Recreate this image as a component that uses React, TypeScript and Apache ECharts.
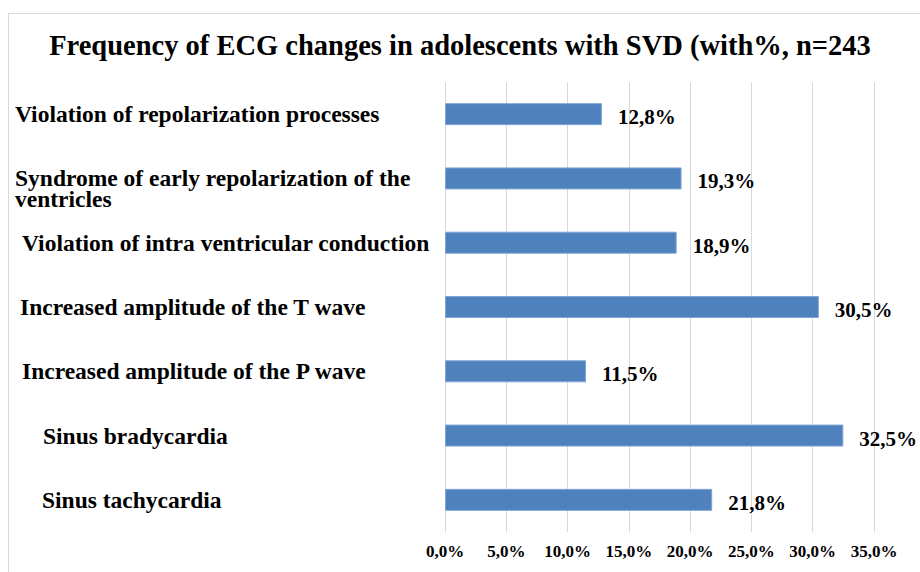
import React, { useEffect, useRef } from "react";
import * as echarts from "echarts";

const titleText = "Frequency of ECG changes in adolescents with SVD (with%, n=243";
const categories = [
  "Violation of repolarization processes",
  "Syndrome of early repolarization of the\nventricles",
  "Violation of intra ventricular conduction",
  "Increased amplitude of the T wave",
  "Increased amplitude of the P wave",
  "Sinus bradycardia",
  "Sinus tachycardia",
];
const values = [12.8, 19.3, 18.9, 30.5, 11.5, 32.5, 21.8];
const xTicks = [0, 5, 10, 15, 20, 25, 30, 35];

// styling only: left indent of each category label (px)
const labelIndent = [0, 0, 7, 5, 7, 28, 27];

const fmt = (v: number) => v.toFixed(1).replace(".", ",") + "%";

export default function App() {
  const ref = useRef<HTMLDivElement>(null);
  useEffect(() => {
    if (!ref.current) return;
    const chart = echarts.init(ref.current, undefined, { renderer: "svg" });
    const font = "'Liberation Serif', 'Times New Roman', serif";
    chart.setOption({
      animation: false,
      backgroundColor: "#ffffff",
      title: {
        text: titleText,
        left: "center",
        top: 26,
        textStyle: { fontFamily: font, fontWeight: "bold", fontSize: 28.5, color: "#000" },
      },
      graphic: [
        { type: "line", shape: { x1: 8, y1: 13.5, x2: 920, y2: 13.5 }, style: { stroke: "#d9d9d9", lineWidth: 1 } },
        { type: "line", shape: { x1: 8.5, y1: 13, x2: 8.5, y2: 572 }, style: { stroke: "#d9d9d9", lineWidth: 1 } },
      ],
      grid: { left: 445, right: 46, top: 82, bottom: 40, containLabel: false, outerBoundsMode: "none" },
      xAxis: {
        type: "value",
        min: xTicks[0],
        max: xTicks[xTicks.length - 1],
        interval: 5,
        axisLine: { show: false },
        axisTick: { show: false },
        splitLine: { show: true, lineStyle: { color: "#d9d9d9", width: 1 } },
        axisLabel: {
          formatter: (v: number) => fmt(v),
          fontFamily: font,
          fontWeight: "bold",
          fontSize: 17,
          color: "#000",
          margin: 11,
        },
      },
      yAxis: {
        type: "category",
        inverse: true,
        data: categories.map((c, i) => ({
          value: c,
          textStyle: {
            align: "left",
            padding: [0, 0, 0, labelIndent[i]],
          },
        })),
        axisLine: { show: false },
        axisTick: { show: false },
        axisLabel: {
          align: "left",
          margin: 430,
          fontFamily: font,
          fontWeight: "bold",
          fontSize: 23.5,
          lineHeight: 21,
          color: "#000",
          formatter: (v: string) => (v.includes("\n") ? "\n" + v : v),
        },
      },
      series: [
        {
          type: "bar",
          data: values,
          barWidth: 22,
          itemStyle: { color: "#4f81bd", borderColor: "#7fa6d6", borderWidth: 1 },
          label: {
            show: true,
            position: "right",
            distance: 16,
            offset: [0, 3],
            formatter: (p: any) => fmt(p.value),
            fontFamily: font,
            fontWeight: "bold",
            fontSize: 21,
            color: "#000",
          },
        },
      ],
    });
    return () => chart.dispose();
  }, []);
  return (
    <div
      ref={ref}
      style={{ position: "absolute", left: 0, top: 0, width: 920, height: 572 }}
    />
  );
}
